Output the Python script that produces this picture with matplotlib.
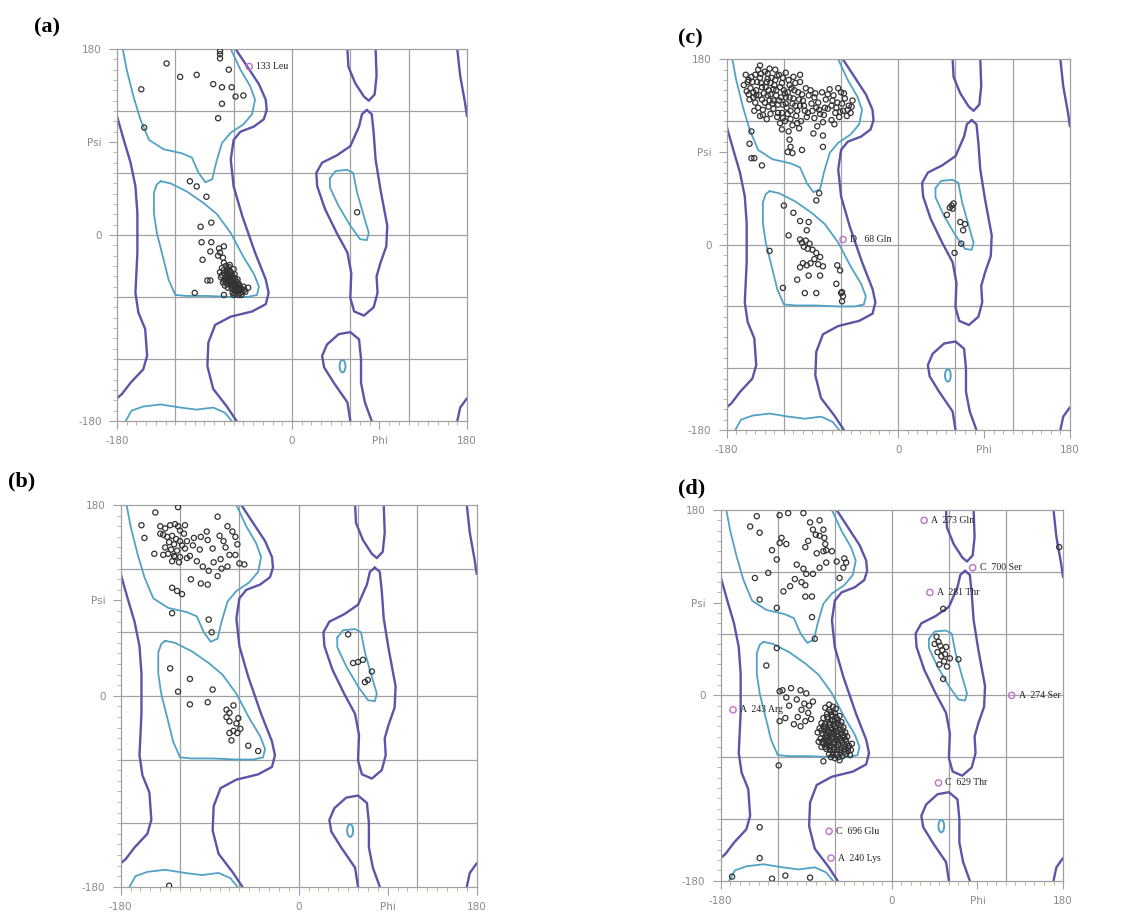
import matplotlib
matplotlib.use("Agg")
import matplotlib.pyplot as plt
from matplotlib.patches import Ellipse

# --- region outlines (phi, psi), same for every panel ---
allowed_left = [(-180, 115), (-173, 92), (-166, 70), (-161, 47), (-159, 21), (-159, -17),
                (-161, -56), (-158, -75), (-151, -91), (-149, -117), (-153, -130),
                (-166, -143), (-175, -154), (-180, -158)]
allowed_right = [(-58, 180), (-46, 163), (-34, 146), (-27, 131), (-26, 121), (-29, 112),
                 (-39, 105), (-53, 100), (-60, 92), (-63, 73), (-60, 47), (-51, 18),
                 (-38, -17), (-27, -43), (-24, -56), (-27, -67), (-41, -74), (-63, -79),
                 (-79, -87), (-86, -104), (-87, -127), (-81, -149), (-67, -166), (-57, -180)]
allowed_edge_top = [(170, 180), (173, 154), (178, 128), (180, 115)]
allowed_edge_bot = [(180, -158), (173, -167), (170, -180)]
allowed_lalpha = [(77, 121), (82, 117), (84, 99), (86, 73), (91, 44), (98, 9), (97, -11),
                  (91, -27), (87, -40), (88, -56), (84, -70), (74, -78), (64, -74),
                  (60, -61), (61, -37), (57, -17), (46, 2), (34, 25), (26, 47), (25, 60),
                  (31, 70), (46, 77), (60, 86), (69, 105), (72, 117), (77, 121)]
allowed_top60 = [(57, 180), (58, 163), (65, 147), (74, 134), (79, 130), (85, 136), (87, 154), (86, 180)]
allowed_bot60 = [(60, -180), (57, -162), (43, -143), (33, -128), (31, -117), (36, -106),
                 (48, -96), (60, -94), (69, -101), (71, -120), (71, -143), (75, -162), (82, -180)]

favored_beta = [(-174, 180), (-170, 160), (-163, 134), (-156, 112), (-147, 92), (-132, 83),
                (-113, 79), (-103, 75), (-96, 60), (-89, 51), (-82, 54), (-78, 70), (-72, 89),
                (-63, 99), (-50, 107), (-41, 117), (-38, 131), (-43, 144), (-53, 160), (-63, 180)]
favored_beta_bot = [(-171, -180), (-165, -170), (-153, -166), (-135, -164), (-115, -167),
                    (-98, -169), (-81, -167), (-69, -172), (-62, -180)]
favored_alpha = [(-135, 52), (-125, 50), (-108, 42), (-91, 31), (-77, 20), (-63, 2), (-50, -21),
                 (-39, -38), (-34, -50), (-36, -58), (-46, -60), (-63, -60), (-87, -59),
                 (-108, -59), (-120, -58), (-127, -43), (-132, -24), (-139, 2), (-142, 21),
                 (-142, 41), (-139, 49), (-135, 52)]
favored_lalpha = [(39, 55), (45, 62), (57, 63), (63, 60), (67, 41), (74, 18), (79, 2), (77, -5),
                  (70, -4), (60, 9), (48, 28), (39, 46), (39, 55)]
favored_ring = (52, -127)

# --- residues per panel ---
a_pts = [(-129, 166), (-155, 141), (-115, 153), (-98, 155), (-81, 146), (-72, 143), (-62, 143),
         (-58, 134), (-50, 135), (-72, 127), (-76, 113), (-152, 104), (-74, 178), (-74, 175),
         (-74, 171), (-65, 160), (-105, 52), (-98, 47), (-88, 37), (-83, 12), (-94, 8), (-93, -7),
         (-83, -7), (-84, -16), (-92, -24), (-75, -13), (-74, -17), (-70, -11), (-76, -20),
         (-71, -22), (-87, -44), (-84, -44), (-100, -56), (-70, -58), (-60, -58), (67, 22),
         (-70, -27), (-68, -30), (-72, -32), (-66, -33), (-64, -29), (-74, -36), (-70, -37),
         (-67, -38), (-63, -36), (-61, -40), (-73, -41), (-69, -42), (-65, -43), (-62, -44),
         (-59, -42), (-57, -45), (-71, -46), (-67, -47), (-64, -48), (-60, -48), (-57, -50),
         (-54, -49), (-66, -51), (-62, -52), (-59, -53), (-55, -54), (-52, -52), (-49, -53),
         (-45, -51), (-58, -57), (-61, -56), (-55, -58), (-68, -44), (-65, -39), (-60, -33),
         (-72, -39), (-63, -46), (-66, -41), (-58, -47), (-62, -50), (-53, -56), (-69, -49),
         (-56, -43), (-64, -35), (-70, -44), (-67, -35), (-63, -40), (-60, -45), (-57, -48),
         (-54, -52), (-51, -55), (-68, -41), (-64, -44), (-61, -49), (-58, -54), (-66, -47),
         (-62, -38), (-59, -38), (-55, -47), (-50, -50), (-48, -55), (-70, -34), (-65, -31),
         (-56, -52), (-52, -58)]
a_labels = [(-44, 163, "133 Leu")]

b_pts = [(-122, 178), (-145, 173), (-159, 161), (-156, 149), (-140, 160), (-135, 158), (-130, 161),
         (-125, 162), (-122, 160), (-120, 156), (-137, 152), (-133, 150), (-128, 151), (-124, 148),
         (-120, 146), (-131, 145), (-126, 143), (-118, 142), (-135, 140), (-129, 138), (-123, 137),
         (-115, 139), (-132, 134), (-126, 132), (-120, 131), (-113, 130), (-128, 127), (-121, 126),
         (-115, 161), (-116, 153), (-113, 146), (-106, 149), (-99, 150), (-93, 155), (-92, 147),
         (-87, 139), (-82, 169), (-67, 155), (-64, 150), (-62, 143), (-64, 133), (-70, 133),
         (-55, 124), (-72, 122), (-79, 129), (-82, 113), (-91, 118), (-99, 106), (-92, 105),
         (-109, 110), (-128, 102), (-123, 99), (-118, 96), (-128, 78), (-91, 72), (-88, 60),
         (-146, 134), (-137, 133), (-125, 131), (-110, 132), (-103, 127), (-97, 122), (-140, 153),
         (-107, 142), (-100, 138), (-76, 146), (-74, 140), (-80, 151), (-72, 160), (-86, 126),
         (-78, 120), (-60, 125), (-130, 26), (-110, 16), (-122, 4), (-110, -8), (-92, -6), (-87, 6),
         (-73, -13), (-70, -16), (-66, -9), (-61, -21), (-70, -24), (-70, -35), (-66, -33),
         (-62, -35), (-59, -31), (-68, -42), (-51, -47), (-41, -52), (-131, -179), (-63, -26),
         (-73, -20), (50, 58), (55, 31), (65, 34), (74, 23), (67, 13), (70, 15), (60, 32)]
b_labels = []

c_pts = [(-160, 165), (-157, 160), (-162, 155), (-155, 152), (-150, 165), (-148, 158), (-152, 148),
         (-145, 162), (-143, 153), (-140, 168), (-138, 158), (-146, 145), (-141, 147), (-136, 150),
         (-133, 162), (-130, 155), (-128, 145), (-135, 140), (-140, 138), (-125, 165), (-122, 157),
         (-120, 150), (-126, 136), (-131, 132), (-118, 143), (-115, 160), (-112, 152), (-110, 142),
         (-117, 133), (-122, 128), (-108, 135), (-105, 148), (-103, 158), (-107, 125), (-113, 122),
         (-119, 120), (-127, 124), (-134, 127), (-142, 131), (-150, 138), (-156, 141), (-159, 149),
         (-153, 158), (-147, 170), (-137, 166), (-129, 170), (-118, 167), (-110, 163), (-100, 140),
         (-98, 130), (-102, 120), (-111, 116), (-124, 118), (-138, 122), (-145, 125), (-151, 130),
         (-131, 140), (-123, 143), (-116, 148), (-143, 141), (-137, 145), (-128, 150), (-134, 157),
         (-121, 136), (-113, 130), (-106, 118), (-96, 124), (-94, 145), (-104, 113), (-115, 110),
         (-122, 112), (-92, 150), (-88, 143), (-84, 138), (-80, 148), (-76, 141), (-72, 151),
         (-68, 145), (-64, 138), (-60, 148), (-56, 142), (-52, 135), (-50, 128), (-58, 130),
         (-66, 128), (-74, 132), (-82, 127), (-88, 123), (-79, 119), (-70, 121), (-62, 124),
         (-54, 125), (-86, 133), (-63, 152), (-70, 135), (-77, 133), (-59, 137), (-90, 130),
         (-48, 140), (-67, 117), (-85, 115), (-158, 158), (-154, 163), (-149, 150), (-144, 157),
         (-139, 153), (-134, 146), (-129, 160), (-124, 153), (-119, 147), (-114, 143), (-109, 150),
         (-104, 141), (-99, 135), (-95, 128), (-91, 137), (-87, 147), (-83, 131), (-78, 126),
         (-74, 146), (-69, 140), (-65, 133), (-61, 129), (-57, 147), (-53, 131), (-49, 134),
         (-147, 133), (-142, 126), (-136, 134), (-132, 137), (-126, 128), (-121, 123), (-116, 127),
         (-111, 137), (-106, 130), (-101, 146), (-97, 152), (-152, 143), (-157, 146), (-144, 166),
         (-135, 171), (-127, 164), (-121, 162), (-114, 155), (-108, 157), (-131, 151), (-137, 161),
         (-149, 145), (-125, 140), (-118, 137), (-103, 135),
         (-154, 110), (-156, 98), (-154, 84), (-151, 84),
         (-143, 77), (-114, 102), (-113, 95), (-111, 89), (-116, 90), (-101, 92), (-79, 106),
         (-79, 95), (-89, 108), (-145, 174), (-103, 165), (-83, 50), (-86, 43), (-120, 38),
         (-110, 31), (-103, 23), (-94, 22), (-96, 14), (-115, 9), (-135, -6), (-103, 5), (-101, 2),
         (-97, 4), (-93, 1), (-99, -2), (-95, -4), (-90, -5), (-86, -8), (-82, -12), (-88, -14),
         (-100, -18), (-96, -20), (-92, -18), (-84, -19), (-79, -21), (-106, -34), (-94, -30),
         (-82, -30), (-65, -38), (-121, -42), (-98, -47), (-86, -47), (-59, -46), (-58, -50),
         (-59, -55), (-61, -25), (-64, -20), (-60, -47), (-103, -22), (56, 38), (57, 35), (54, 36),
         (51, 29), (65, 22), (70, 20), (68, 14), (66, 1), (59, -8), (58, 40)]
c_labels = [(-58, 5, "D   68 Gln")]

d_pts = [(-142, 174), (-118, 175), (-109, 177), (-93, 177), (-149, 164), (-139, 158), (-116, 153),
         (-118, 148), (-111, 147), (-126, 141), (-121, 132), (-91, 144), (-86, 168), (-83, 161),
         (-76, 170), (-72, 161), (-76, 155), (-71, 153), (-79, 138), (-72, 140), (-69, 141),
         (-130, 119), (-144, 114), (-100, 127), (-93, 123), (-90, 118), (-83, 118), (-76, 124),
         (-69, 129), (-58, 130), (-51, 124), (-55, 114), (-48, 129), (-50, 133), (-114, 101),
         (-107, 106), (-91, 107), (-91, 96), (-84, 96), (-139, 93), (-121, 85), (-84, 76), (-81, 55),
         (-80, 156), (-70, 147), (-88, 150), (-63, 140), (-102, 113), (-95, 110),
         (-132, 29), (-121, 46), (-118, 4), (-115, 5), (-106, 7), (-96, 5), (-90, 2), (-111, -2),
         (-100, -4), (-92, -8), (-87, -10), (-83, -6), (-108, -10), (-95, -14), (-88, -17),
         (-99, -21), (-91, -25), (-85, -23), (-103, -28), (-96, -30), (-118, -25), (-112, -22),
         (-70, -12), (-66, -14), (-62, -11), (-68, -18), (-64, -19), (-60, -17), (-72, -22),
         (-67, -23), (-63, -24), (-58, -22), (-55, -20), (-74, -27), (-70, -28), (-65, -29),
         (-61, -28), (-57, -27), (-53, -26), (-76, -32), (-71, -33), (-67, -34), (-63, -33),
         (-59, -32), (-55, -33), (-51, -31), (-73, -37), (-69, -38), (-65, -39), (-61, -37),
         (-57, -38), (-53, -37), (-49, -36), (-75, -42), (-71, -43), (-67, -44), (-63, -42),
         (-59, -43), (-55, -42), (-51, -41), (-47, -40), (-72, -47), (-68, -48), (-64, -49),
         (-60, -47), (-56, -48), (-52, -46), (-48, -45), (-69, -52), (-65, -53), (-61, -52),
         (-57, -53), (-53, -51), (-49, -50), (-45, -49), (-66, -57), (-62, -58), (-58, -57),
         (-54, -56), (-50, -55), (-46, -54), (-60, -61), (-56, -60), (-52, -59), (-42, -47),
         (-44, -58), (-78, -36), (-77, -45), (-74, -50), (-64, -16), (-59, -13), (-66, -9),
         (-68, -21), (-62, -20), (-57, -24), (-70, -31), (-66, -27), (-60, -30), (-54, -29),
         (-74, -34), (-64, -36), (-58, -35), (-52, -34), (-70, -40), (-66, -36), (-62, -40),
         (-56, -40), (-50, -39), (-73, -45), (-69, -45), (-65, -46), (-61, -45), (-57, -45),
         (-53, -44), (-49, -43), (-70, -50), (-66, -50), (-62, -55), (-58, -50), (-54, -53),
         (-50, -52), (-46, -51), (-64, -60), (-55, -63), (-48, -57), (-43, -53), (-60, -25),
         (-64, -31), (-68, -41), (-72, -30), (-50, -47), (-58, -40),
         (-119, -68), (-72, -64), (-139, -128), (-139, -158), (-168, -176), (-126, -178),
         (-112, -175), (-86, -177), (47, 57), (49, 52), (51, 48), (53, 44), (48, 42), (52, 38),
         (56, 40), (55, 33), (50, 30), (58, 28), (61, 36), (70, 35), (54, 16), (54, 84), (176, 144),
         (45, 50), (57, 47)]
d_labels = [(34, 170, "A  273 Gln"), (85, 124, "C  700 Ser"), (40, 100, "A  281 Thr"),
            (126, 0, "A  274 Ser"), (-167, -14, "A  243 Arg"), (49, -85, "C  629 Thr"),
            (-66, -132, "C  696 Glu"), (-64, -158, "A  240 Lys")]

DARK = "#5b55a6"
LIGHT = "#52a2c6"
GRIDC = "#a0a0a0"


def line(ax, pts, color, lw):
    xs = [p[0] for p in pts]
    ys = [p[1] for p in pts]
    ax.plot(xs, ys, color=color, lw=lw, solid_capstyle="round", solid_joinstyle="round", zorder=2)


def draw_panel(ax, pts, labels):
    ax.set_xlim(-180, 180)
    ax.set_ylim(-180, 180)
    for g in [-120, -60, 0, 60, 120]:
        ax.axvline(g, color=GRIDC, lw=0.9, zorder=1)
        ax.axhline(g, color=GRIDC, lw=0.9, zorder=1)
    for outline in [allowed_left, allowed_right, allowed_edge_top, allowed_edge_bot,
                    allowed_lalpha, allowed_top60, allowed_bot60]:
        line(ax, outline, DARK, 1.7)
    for outline in [favored_beta, favored_beta_bot, favored_alpha, favored_lalpha]:
        line(ax, outline, LIGHT, 1.3)
    ax.add_patch(Ellipse(favored_ring, 6, 12, fill=False, ec=LIGHT, lw=1.4, zorder=2))

    ax.scatter([p[0] for p in pts], [p[1] for p in pts], s=14, facecolors="none",
               edgecolors="#333333", linewidths=0.9, zorder=3)
    for x, y, t in labels:
        ax.scatter([x], [y], s=20, facecolors="none", edgecolors="#c070c8",
                   linewidths=1.0, zorder=4)
        ax.annotate(t, (x, y), xytext=(5, 0), textcoords="offset points", va="center",
                    ha="left", fontsize=7, family="Liberation Serif", color="#222222", zorder=5)

    ax.set_xticks([-180, 0, 90, 180])
    ax.set_xticklabels(["-180", "0", "Phi", "180"])
    ax.set_yticks([-180, 0, 90, 180])
    ax.set_yticklabels(["-180", "0", "Psi", "180"])
    ax.set_xticks(range(-180, 181, 10), minor=True)
    ax.set_yticks(range(-180, 181, 10), minor=True)
    ax.tick_params(which="major", length=6, width=0.8, color=GRIDC, labelcolor="#8a8a8a",
                   labelsize=7.5, pad=5)
    ax.tick_params(axis="x", which="minor", length=3, width=0.7, color="#cfae88")
    ax.tick_params(axis="y", which="minor", length=3, width=0.7, color="#b8b8b8")
    for s in ax.spines.values():
        s.set_color(GRIDC)
        s.set_linewidth(0.9)


fig = plt.figure(figsize=(11.28, 9.23), dpi=100)
panels = [
    ([0.1037, 0.5439, 0.3103, 0.4030], a_pts, a_labels, "(a)", (0.030, 0.970)),
    ([0.6442, 0.5341, 0.3043, 0.4016], c_pts, c_labels, "(c)", (0.601, 0.958)),
    ([0.1070, 0.0393, 0.3156, 0.4135], b_pts, b_labels, "(b)", (0.007, 0.478)),
    ([0.6389, 0.0458, 0.3035, 0.4016], d_pts, d_labels, "(d)", (0.601, 0.471)),
]
for rect, pts, labels, tag, pos in panels:
    ax = fig.add_axes(rect)
    draw_panel(ax, pts, labels)
    fig.text(pos[0], pos[1], tag, fontsize=16, fontweight="bold", family="Liberation Serif",
             va="center", ha="left")

fig.savefig("out.png", dpi=100)
